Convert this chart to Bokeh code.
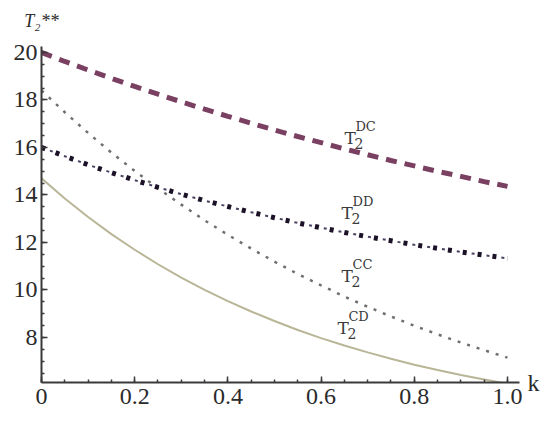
from bokeh.plotting import figure
from bokeh.models import FixedTicker, Label, Range1d, LinearAxis
from bokeh.embed import file_html
from bokeh.resources import INLINE

# ---- data ----
k = [0.0, 0.05, 0.1, 0.15, 0.2, 0.25, 0.3, 0.35, 0.4, 0.45, 0.5,
     0.55, 0.6, 0.65, 0.7, 0.75, 0.8, 0.85, 0.9, 0.95, 1.0]
T2_DC = [20.0, 19.62, 19.26, 18.91, 18.57, 18.24, 17.92, 17.61, 17.31, 17.02, 16.73,
         16.46, 16.20, 15.94, 15.69, 15.45, 15.22, 14.99, 14.78, 14.56, 14.36]
T2_DD = [16.0, 15.63, 15.27, 14.94, 14.62, 14.32, 14.03, 13.76, 13.51, 13.27, 13.04,
         12.82, 12.62, 12.42, 12.24, 12.07, 11.90, 11.75, 11.60, 11.46, 11.33]
T2_CC = [18.4, 17.48, 16.61, 15.78, 15.01, 14.28, 13.59, 12.93, 12.32, 11.74, 11.19,
         10.67, 10.19, 9.72, 9.29, 8.88, 8.49, 8.13, 7.78, 7.46, 7.15]
T2_CD = [14.7, 13.85, 13.07, 12.35, 11.69, 11.08, 10.52, 10.0, 9.53, 9.09, 8.69,
         8.31, 7.97, 7.66, 7.37, 7.10, 6.85, 6.63, 6.42, 6.23, 6.05]

x_ticks = [0.0, 0.2, 0.4, 0.6, 0.8, 1.0]
y_ticks = [8, 10, 12, 14, 16, 18, 20]
x_name = "k"
y_name = "T\u2082**"

# curve labels: (k, value, superscript)
curve_labels = [(0.650, 16.40, "DC"), (0.644, 13.24, "DD"),
                (0.644, 10.59, "CC"), (0.635, 8.40, "CD")]

Y0, Y1 = 6.1, 20.25

p = figure(frame_width=478, frame_height=336,
           x_range=Range1d(0, 1.0258), y_range=Range1d(Y0, Y1),
           output_backend="svg", toolbar_location=None,
           min_border_left=41, min_border_top=46,
           min_border_right=22, min_border_bottom=34)
p.outline_line_color = None
p.grid.visible = False
p.background_fill_color = "white"

# curves
p.line(k, T2_CD, line_color="#b9b697", line_width=2)
p.line(k, T2_CC, line_color="#707070", line_width=2.5, line_dash="3 7")
p.line(k, T2_DD, line_color="#1c1228", line_width=5, line_dash="4 11")
p.line(k, T2_DD, line_color="#4a4060", line_width=2, line_dash="3 12",
       line_dash_offset=6)
p.line(k, T2_DC, line_color="#7a4062", line_width=5, line_dash="11 8")

minor_x = [i * 0.05 for i in range(0, 21)]
minor_y = [6.5 + i * 0.5 for i in range(0, 28)]
p.xaxis.ticker = FixedTicker(ticks=x_ticks, minor_ticks=minor_x)
p.yaxis.ticker = FixedTicker(ticks=y_ticks, minor_ticks=minor_y)
p.xaxis.major_label_overrides = {0: "0", 0.2: "0.2", 0.4: "0.4", 0.6: "0.6",
                                 0.8: "0.8", 1: "1.0"}

for ax in (p.xaxis[0], p.yaxis[0]):
    ax.axis_line_color = "#3a3a3a"
    ax.axis_line_width = 2
    ax.major_tick_line_color = "#3a3a3a"
    ax.minor_tick_line_color = "#3a3a3a"
    ax.major_tick_in = 6
    ax.major_tick_out = 0
    ax.minor_tick_in = 3
    ax.minor_tick_out = 0
    ax.major_tick_line_width = 1.5
    ax.minor_tick_line_width = 1.5
    ax.major_label_text_font = "Liberation Serif"
    ax.major_label_text_font_size = "24px"
    ax.major_label_text_color = "#2a2a2a"
p.xaxis.major_label_standoff = 6
p.yaxis.major_label_standoff = 4

# axis name "k": a tick label of a bare axis on the right, level with the x axis
k_axis = LinearAxis(ticker=FixedTicker(ticks=[Y0]),
                    major_label_overrides={Y0: x_name})
k_axis.axis_line_color = None
k_axis.major_tick_line_color = None
k_axis.minor_tick_line_color = None
k_axis.major_label_standoff = 2
k_axis.major_label_text_font = "Liberation Serif"
k_axis.major_label_text_font_size = "24px"
k_axis.major_label_text_color = "#2a2a2a"
p.add_layout(k_axis, "right")

# axis name "T2**": a tick label of a bare axis above, over the y axis
t_axis = LinearAxis(ticker=FixedTicker(ticks=[0]),
                    major_label_overrides={0: y_name})
t_axis.axis_line_color = None
t_axis.major_tick_line_color = None
t_axis.minor_tick_line_color = None
t_axis.major_label_standoff = 10
t_axis.major_label_text_font = "Liberation Serif"
t_axis.major_label_text_font_style = "italic"
t_axis.major_label_text_font_size = "18px"
t_axis.major_label_text_color = "#2a2a2a"
p.add_layout(t_axis, "above")

for (kx, vy, sup) in curve_labels:
    p.add_layout(Label(x=kx, y=vy, text="T", text_font="DejaVu Serif",
                       text_font_size="17px", text_color="#3a3a3a",
                       text_baseline="alphabetic"))
    p.add_layout(Label(x=kx, y=vy, text="2", text_font="DejaVu Serif",
                       text_font_size="14px", text_color="#3a3a3a",
                       text_baseline="alphabetic", x_offset=10, y_offset=-6))
    p.add_layout(Label(x=kx, y=vy, text=sup, text_font="DejaVu Serif",
                       text_font_size="13px", text_color="#3a3a3a",
                       text_baseline="alphabetic", x_offset=11, y_offset=11))

open("out.html", "w").write(file_html(p, INLINE))
